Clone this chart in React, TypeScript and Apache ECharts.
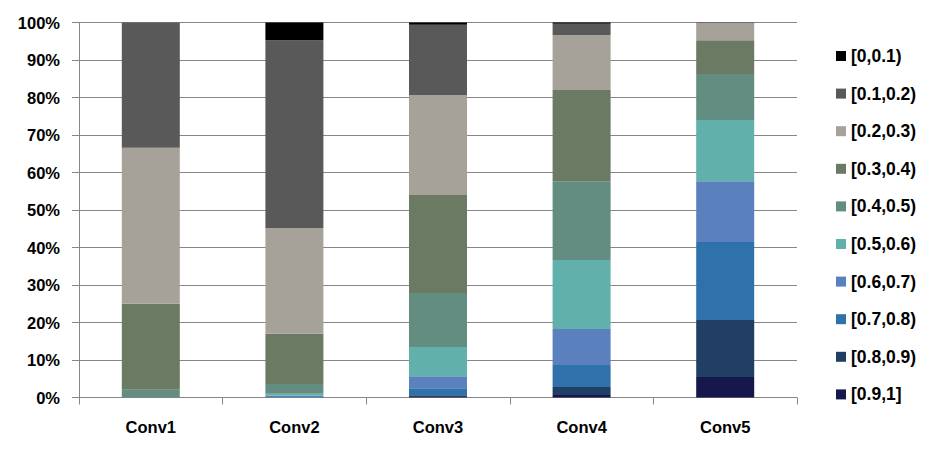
import React, { useEffect, useRef } from "react";
import * as echarts from "echarts";

const categories = ["Conv1", "Conv2", "Conv3", "Conv4", "Conv5"];
// bins from top of legend to bottom
const bins = ["[0,0.1)", "[0.1,0.2)", "[0.2,0.3)", "[0.3,0.4)", "[0.4,0.5)", "[0.5,0.6)", "[0.6,0.7)", "[0.7,0.8)", "[0.8,0.9)", "[0.9,1]"];
const colors = ["#000000", "#595959", "#A6A29A", "#6B7A63", "#628D80", "#62B0AC", "#5A80BE", "#2F72AB", "#213F65", "#16174A"];
// percentage per bin (same order as bins), per conv layer
const bin00 = [0, 4.7, 0.6, 0.3, 0];
const bin01 = [33.4, 50.1, 18.7, 3.0, 0.2];
const bin02 = [41.6, 28.2, 26.7, 14.7, 4.5];
const bin03 = [22.9, 13.4, 26.1, 24.3, 9.0];
const bin04 = [2.1, 2.6, 14.4, 21.0, 12.3];
const bin05 = [0, 0.5, 7.8, 18.4, 16.3];
const bin06 = [0, 0.4, 3.2, 9.6, 16.2];
const bin07 = [0, 0.1, 1.9, 5.9, 20.8];
const bin08 = [0, 0, 0.5, 2.1, 15.2];
const bin09 = [0, 0, 0.1, 0.7, 5.5];
const binValues = [bin00, bin01, bin02, bin03, bin04, bin05, bin06, bin07, bin08, bin09];
const yTicks = [0, 10, 20, 30, 40, 50, 60, 70, 80, 90, 100];

export default function App() {
  const ref = useRef<HTMLDivElement>(null);
  useEffect(() => {
    if (!ref.current) return;
    const chart = echarts.init(ref.current, null, { renderer: "svg" });
    const font = "'Liberation Sans', Arial, sans-serif";
    const series = bins
      .map((name, i) => ({
        name,
        type: "bar" as const,
        stack: "total",
        barWidth: 58,
        data: binValues[i],
        itemStyle: { color: colors[i] },
      }))
      .reverse();
    chart.setOption({
      animation: false,
      backgroundColor: "#ffffff",
      textStyle: { fontFamily: font },
      grid: { left: 79, right: 141, top: 22.5, bottom: 52.5, containLabel: false },
      legend: {
        orient: "vertical",
        left: 831,
        top: 41,
        data: bins,
        icon: "rect",
        itemWidth: 10,
        itemHeight: 10,
        itemGap: 17.6,
        textStyle: { fontFamily: font, fontSize: 17.5, fontWeight: "bold", color: "#000", lineHeight: 20 },
      },
      xAxis: {
        type: "category",
        data: categories,
        axisLine: { lineStyle: { color: "#868686", width: 1 } },
        axisTick: { show: true, length: 7, lineStyle: { color: "#868686" } },
        axisLabel: { fontFamily: font, fontSize: 16.5, fontWeight: "bold", color: "#000", margin: 21 },
      },
      yAxis: {
        type: "value",
        min: yTicks[0],
        max: yTicks[yTicks.length - 1],
        interval: 10,
        axisLine: { show: true, lineStyle: { color: "#868686", width: 1 } },
        axisTick: { show: true, length: 7, lineStyle: { color: "#868686" } },
        axisLabel: { fontFamily: font, fontSize: 16.5, fontWeight: "bold", color: "#000", margin: 19, formatter: "{value}%" },
        splitLine: { show: true, lineStyle: { color: "#868686", width: 1 } },
      },
      series,
    });
    return () => chart.dispose();
  }, []);
  return <div ref={ref} style={{ width: 938, height: 450, position: "absolute", left: 0, top: 0 }} />;
}
